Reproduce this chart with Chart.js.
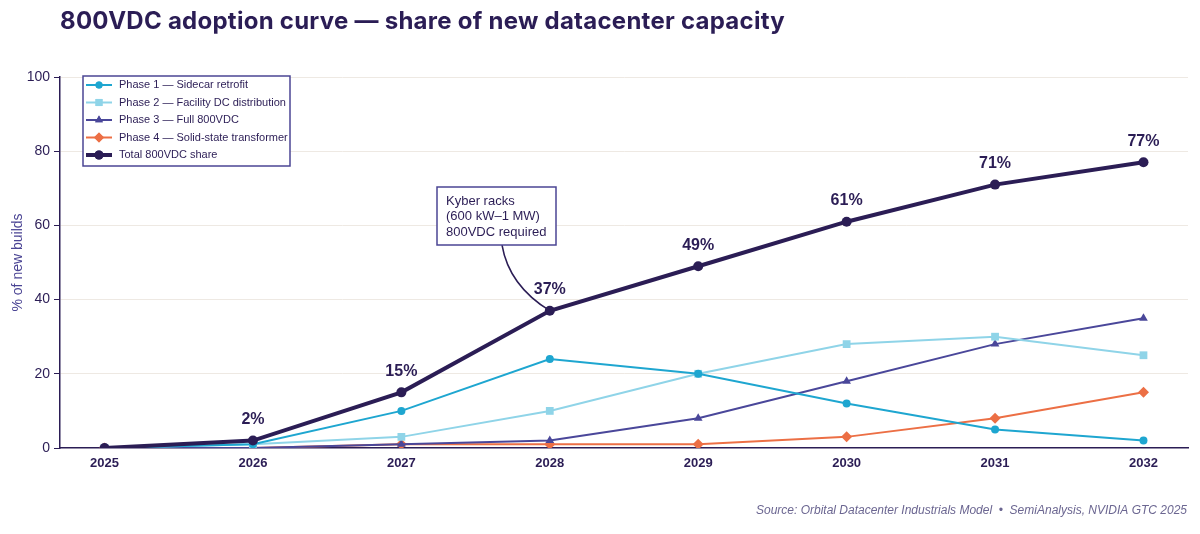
<!DOCTYPE html>
<html><head><meta charset="utf-8">
<script src="https://cdn.jsdelivr.net/npm/chart.js@4/dist/chart.umd.min.js"></script>
<style>html,body{margin:0;padding:0;background:#fff;}#wrap{width:1200px;height:534px;position:relative;}</style>
</head><body><div id="wrap"><canvas id="c" width="1200" height="534"></canvas></div>
<script>
const years = [2025, 2026, 2027, 2028, 2029, 2030, 2031, 2032];
const phase1 = [0, 1, 10, 24, 20, 12, 5, 2];
const phase2 = [0, 1, 3, 10, 20, 28, 30, 25];
const phase3 = [0, 0, 1, 2, 8, 18, 28, 35];
const phase4 = [0, 0, 1, 1, 1, 3, 8, 15];
const total = [0, 2, 15, 37, 49, 61, 71, 77];
const labeledYears = [2026, 2027, 2028, 2029, 2030, 2031, 2032];
const yTicks = [0, 20, 40, 60, 80, 100];
const seriesNames = ['Phase 1 — Sidecar retrofit','Phase 2 — Facility DC distribution','Phase 3 — Full 800VDC','Phase 4 — Solid-state transformer','Total 800VDC share'];
const annotationLines = ['Kyber racks','(600 kW–1 MW)','800VDC required'];
const annotationYear = 2028;
const titleText = '800VDC adoption curve — share of new datacenter capacity';
const sourceText = 'Source: Orbital Datacenter Industrials Model  •  SemiAnalysis, NVIDIA GTC 2025';

const DARK = '#2b1d55';
const pts = arr => arr.map((v,i)=>({x:years[i], y:v}));

const styles = [
  {c:'#1ea6d0', s:'circle', r:4, w:2},
  {c:'#8fd4e8', s:'rect', r:5.5, w:2},
  {c:'#4a479a', s:'triangle', r:5, w:2},
  {c:'#ec6f45', s:'rectRot', r:5.5, w:2},
  {c:DARK, s:'circle', r:5, w:4}
];
const legendR = [3.5, 5, 4.5, 5, 4.5];
const allData = [phase1, phase2, phase3, phase4, total];
const datasets = allData.map((d,i)=>({
  label: seriesNames[i], data: pts(d),
  borderColor: styles[i].c, backgroundColor: styles[i].c,
  pointStyle: styles[i].s, pointRadius: styles[i].r, pointHoverRadius: styles[i].r,
  borderWidth: styles[i].w, pointBorderWidth: 0, tension: 0,
  order: i===4 ? -1 : i+1
}));

const decor = {
  id:'decor',
  afterDatasetsDraw(chart){
    const ctx = chart.ctx, xs = chart.scales.x, ys = chart.scales.y;
    ctx.save();
    // title
    ctx.fillStyle = DARK; ctx.font = 'bold 24px Inter'; ctx.textBaseline='middle'; ctx.textAlign='left';
    const w0 = ctx.measureText(titleText).width;
    const ls = (725 - w0) / (titleText.length - 1);
    if ('letterSpacing' in ctx) ctx.letterSpacing = ls.toFixed(2) + 'px';
    ctx.fillText(titleText, 60, 22);
    if ('letterSpacing' in ctx) ctx.letterSpacing = '0px';
    // data labels
    ctx.font = 'bold 16px "Liberation Sans"'; ctx.textAlign='center'; ctx.fillStyle = DARK;
    labeledYears.forEach(yr=>{
      const i = years.indexOf(yr);
      ctx.fillText(total[i]+'%', xs.getPixelForValue(yr), ys.getPixelForValue(total[i]) - 21);
    });
    // annotation
    const ai = years.indexOf(annotationYear);
    const px = xs.getPixelForValue(annotationYear), py = ys.getPixelForValue(total[ai]);
    const bx = 437, by = 187, bw = 119, bh = 58;
    ctx.strokeStyle = DARK; ctx.lineWidth = 1.5;
    ctx.beginPath(); ctx.moveTo(bx + 65, by + bh);
    ctx.quadraticCurveTo(bx + 72, py - 25, px, py); ctx.stroke();
    ctx.fillStyle='#fff'; ctx.fillRect(bx,by,bw,bh);
    ctx.strokeStyle = '#4b4594'; ctx.lineWidth = 1.5; ctx.strokeRect(bx,by,bw,bh);
    ctx.fillStyle = DARK; ctx.font = '13px "Liberation Sans"'; ctx.textAlign='left';
    annotationLines.forEach((t,k)=>ctx.fillText(t, bx+9, by+14+k*15.5));
    // legend
    const lx = 83, ly = 76, lw = 207, lh = 90;
    ctx.fillStyle='#fff'; ctx.fillRect(lx,ly,lw,lh);
    ctx.strokeStyle='#4b4594'; ctx.lineWidth=1.5; ctx.strokeRect(lx,ly,lw,lh);
    ctx.font = '11px "Liberation Sans"';
    seriesNames.forEach((n,k)=>{
      const yy = ly + 9 + k*17.5, st = styles[k];
      ctx.strokeStyle = st.c; ctx.lineWidth = st.w; ctx.beginPath(); ctx.moveTo(lx+3,yy); ctx.lineTo(lx+29,yy); ctx.stroke();
      ctx.fillStyle = st.c;
      Chart.helpers.drawPoint(ctx, {pointStyle: st.s, radius: legendR[k], borderWidth: 0}, lx+16, yy);
      ctx.fill();
      ctx.fillStyle = DARK; ctx.fillText(n, lx+36, yy);
    });
    // source
    ctx.font = 'italic 12px "Liberation Sans"'; ctx.fillStyle='#6b6691'; ctx.textAlign='right';
    ctx.fillText(sourceText, 1187, 511);
    ctx.restore();
  }
};

new Chart(document.getElementById('c'), {
  type:'line',
  data:{datasets},
  options:{
    responsive:false, animation:false, devicePixelRatio:1,
    layout:{padding:{top:77, right:12, left:10, bottom:0}},
    plugins:{legend:{display:false}, tooltip:{enabled:false}, title:{display:false}},
    scales:{
      x:{type:'linear', min:2024.7, max:2032.3,
         afterBuildTicks: s => { s.ticks = years.map(v=>({value:v})); },
         afterFit: s => { s.height = 86; },
         grid:{display:false, drawTicks:false},
         border:{color:DARK, width:1.5},
         ticks:{padding:8, color:DARK, font:{family:'"Liberation Sans"', size:13, weight:'bold'}, callback:v=>String(v)}
      },
      y:{min:0, max:100,
         afterBuildTicks: s => { s.ticks = yTicks.map(v=>({value:v})); },
         afterFit: s => { s.width = 50; },
         grid:{color: ctx => ctx.tick && ctx.tick.value===0 ? 'rgba(0,0,0,0)' : '#eee9e3', lineWidth:1, tickLength:6, tickColor:DARK},
         border:{color:DARK, width:1.5},
         title:{display:true, text:'% of new builds', color:'#4b4594', font:{family:'"Liberation Sans"', size:14}, padding:{top:0,bottom:4}},
         ticks:{padding:4, color:DARK, font:{family:'"Liberation Sans"', size:14}}
      }
    }
  },
  plugins:[decor]
});
</script></body></html>
